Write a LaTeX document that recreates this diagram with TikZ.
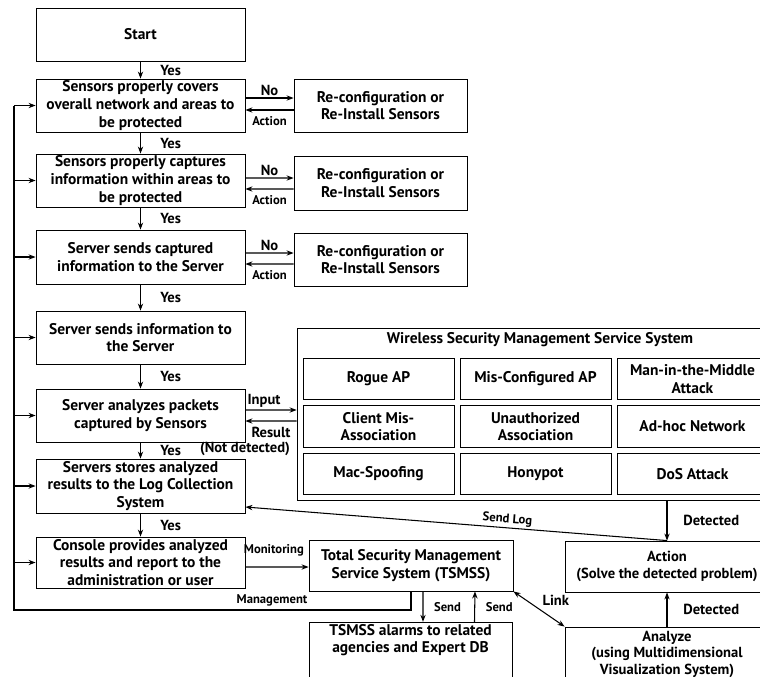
\documentclass[tikz,border=0pt]{standalone}
\usepackage{fontspec}
\setmainfont{PT Sans}
\usepackage{tikz}
\usetikzlibrary{positioning,arrows.meta}

\begin{document}
\begin{tikzpicture}[x=0.02cm, y=-0.02cm, >={Stealth[length=4pt,width=3pt]},
  every node/.style={font=\bfseries\fontsize{8.8}{10}\selectfont},
  box/.style={draw, line width=0.5pt, align=center, minimum width=4.18cm, minimum height=1.06cm, inner sep=1pt},
  fixbox/.style={box, minimum width=3.46cm},
  cell/.style={box, minimum width=3.02cm, minimum height=0.83cm},
  lbl/.style={font=\bfseries\fontsize{8.3}{9}\selectfont, inner sep=1pt},
  small/.style={font=\bfseries\fontsize{7.2}{8}\selectfont, inner sep=1pt},
  link/.style={->, line width=0.6pt}]
\clip (0,0) rectangle (760,676);

% main flow
\node[box] (start) at (140.5,34.5) {Start};
\node[box] (cover) at (140.5,105.5) {Sensors properly covers\\overall network and areas to\\be protected};
\node[box] (capture) at (140.5,180.5) {Sensors properly captures\\information within areas to\\be protected};
\node[box, minimum height=1.08cm] (sendcap) at (140.5,257) {Server sends captured\\information to the Server};
\node[box] (sendinfo) at (140.5,337.5) {Server sends information to\\the Server};
\node[box] (analyze) at (140.5,415.5) {Server analyzes packets\\captured by Sensors};
\node[box, minimum height=1.08cm] (store) at (140.5,486) {Servers stores analyzed\\results to the Log Collection\\System};
\node[box, minimum height=1.02cm] (console) at (140.5,562.5) {Console provides analyzed\\results and report to the\\administration or user};

% re-configuration boxes
\node[fixbox] (reconf_1) at (380.5,105.5) {Re-configuration or\\Re-Install Sensors};
\node[fixbox, minimum height=1.08cm] (reconf_2) at (380.5,183) {Re-configuration or\\Re-Install Sensors};
\node[fixbox] (reconf_3) at (380.5,259.5) {Re-configuration or\\Re-Install Sensors};

% wireless security management service system
\node[box, minimum width=9.56cm, minimum height=3.44cm] (wsys) at (536,414) {};
\node (wsys_title) at (540,340) {Wireless Security Management Service System};
\node[cell] (cell_11) at (378.5,379) {Rogue AP};
\node[cell] (cell_12) at (535.5,379) {Mis-Configured AP};
\node[cell] (cell_13) at (692.5,379) {Man-in-the-Middle\\Attack};
\node[cell] (cell_21) at (378.5,426.5) {Client Mis-\\Association};
\node[cell] (cell_22) at (535.5,426.5) {Unauthorized\\Association};
\node[cell] (cell_23) at (692.5,426.5) {Ad-hoc Network};
\node[cell] (cell_31) at (378.5,474) {Mac-Spoofing};
\node[cell] (cell_32) at (535.5,474) {Honypot};
\node[cell] (cell_33) at (692.5,474) {DoS Attack};

% lower part
\node[box, minimum width=4.08cm, minimum height=1.02cm] (tsmss) at (411,565.5) {Total Security Management\\Service System (TSMSS)};
\node[box, minimum width=4.08cm, minimum height=1.02cm, font=\bfseries\fontsize{8.3}{10}\selectfont] (action) at (667,566.5) {Action\\(Solve the detected problem)};
\node[box, minimum width=4.08cm, minimum height=1.08cm, font=\bfseries\fontsize{8.3}{9.4}\selectfont] (analyze_2) at (667,654) {Analyze\\(using Multidimensional\\Visualization System)};
\node[box, minimum width=4.06cm, minimum height=1.08cm] (alarms) at (410.5,655) {TSMSS alarms to related\\agencies and Expert DB\\[9pt]};

% Yes arrows
\draw[link] (start) -- (cover) node[lbl, midway, right=10pt] {Yes};
\draw[link] (cover) -- (capture) node[lbl, midway, right=10pt] {Yes};
\draw[link] (capture) -- (sendcap) node[lbl, midway, right=10pt] {Yes};
\draw[link] (sendcap) -- (sendinfo) node[lbl, midway, right=10pt] {Yes};
\draw[link] (sendinfo) -- (analyze) node[lbl, midway, right=10pt] {Yes};
\draw[link] (analyze) -- (store) node[lbl, midway, right=10pt] {Yes};
\draw[link] (store) -- (console) node[lbl, midway, right=10pt] {Yes};

% No / Action
\draw[link] ([yshift=0.15cm]cover.east) -- ([yshift=0.15cm]reconf_1.west) node[lbl, midway, above] {No};
\draw[link] ([yshift=-0.09cm]reconf_1.west) -- ([yshift=-0.09cm]cover.east) node[small, midway, below=2.5pt] {Action};
\draw[link] ([yshift=0.05cm]capture.east) -- ([yshift=0.1cm]reconf_2.west) node[lbl, midway, above] {No};
\draw[link] ([yshift=-0.12cm]reconf_2.west) -- ([yshift=-0.17cm]capture.east) node[small, midway, below=2.5pt] {Action};
\draw[link] ([yshift=0.08cm]sendcap.east) -- ([yshift=0.13cm]reconf_3.west) node[lbl, midway, above] {No};
\draw[link] ([yshift=-0.09cm]reconf_3.west) -- ([yshift=-0.14cm]sendcap.east) node[small, midway, below=2.5pt] {Action};

% Input / Result
\draw[link] ([yshift=0.11cm]analyze.east) -- ([yshift=0.08cm]wsys.west) node[lbl, midway, above, xshift=-4pt] {Input};
\draw[link] ([yshift=-0.14cm]wsys.west) -- ([yshift=-0.11cm]analyze.east) node[lbl, midway, below=2pt] {Result};
\node[lbl] (notdet) at (245,449) {(Not detected)};

% detection path
\draw[link] (action.north |- wsys.south) -- (action.north) node[lbl, midway, right=8pt] {Detected};
\draw[link] (action.north) -- ([yshift=-0.42cm]store.east) node[small, pos=0.38, above, sloped] {Send Log};
\draw[link] (analyze_2.north) -- (action.south) node[lbl, midway, right=8pt] {Detected};

% TSMSS connections
\draw[link] ([yshift=-0.09cm]console.east) -- ([yshift=-0.03cm]tsmss.west) node[small, pos=0.45, above=5pt] {Monitoring};
\draw[link] ([xshift=0.24cm]tsmss.south) -- ([xshift=0.25cm]alarms.north) node[small, midway, right=5pt] {Send};
\draw[link] ([xshift=1.28cm]alarms.north) -- ([xshift=1.28cm]tsmss.south) node[small, midway, right=5pt] {Send};
\draw[link, <->] (tsmss.south east) -- (analyze_2.north west) node[lbl, midway, above right=1pt] {Link};

% management loop
\coordinate (loop_l) at (14,610);
\draw[line width=1.2pt] (tsmss.south) |- (loop_l) -- (loop_l |- cover.west);
\node[small] (mgmt) at (272,600) {Management};
\foreach \b in {cover, capture, sendcap, sendinfo, analyze, store, console}
  \draw[link] (loop_l |- \b.west) -- (\b.west);

\end{tikzpicture}
\end{document}
